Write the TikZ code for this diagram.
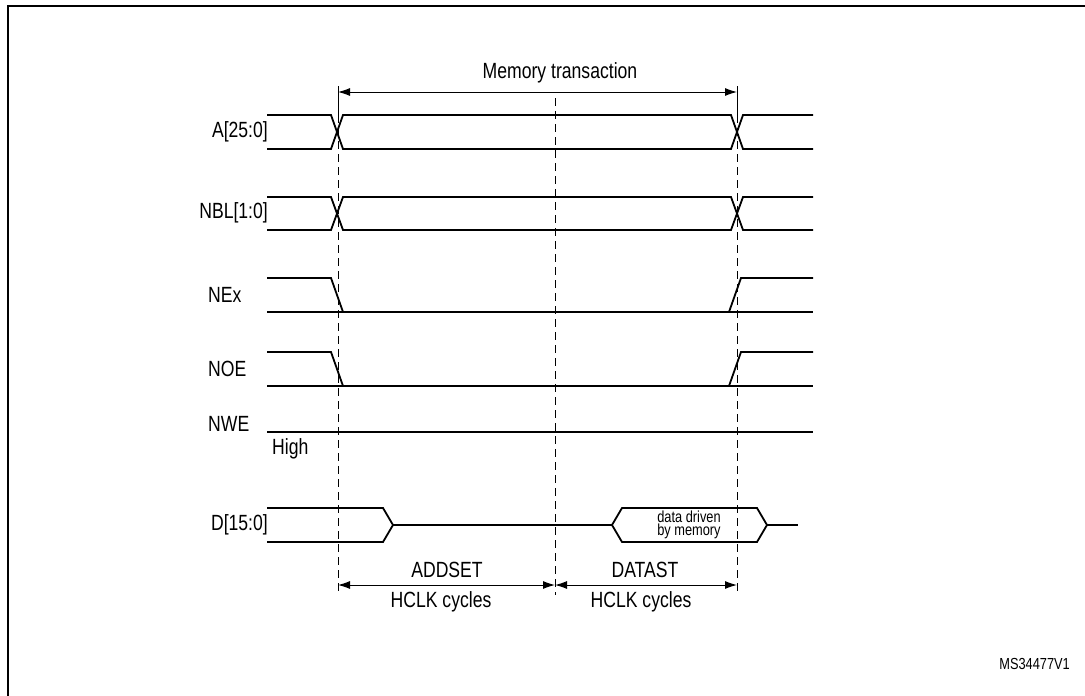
\documentclass[tikz,border=0pt]{standalone}
\usepackage{fontspec}
\setmainfont{Liberation Sans}[FakeStretch=0.8]
\usetikzlibrary{arrows.meta}
\begin{document}
\begin{tikzpicture}[x=1pt,y=-1pt,
  sig/.style={line width=1.8pt},
  vdash/.style={line width=0.9pt,dash pattern=on 8pt off 5pt},
  dim/.style={line width=1pt,{Latex[length=12pt,width=8pt]}-{Latex[length=12pt,width=8pt]}},
  lbl/.style={font=\fontsize{22}{24}\selectfont,inner sep=0pt},
  small/.style={font=\fontsize{16}{13}\selectfont,inner sep=0pt,align=center}]
\useasboundingbox (0,0) rectangle (1085,696);
\draw[line width=2pt] (8,696) -- (8,6) -- (1085,6);
% labels
\node[lbl,anchor=east] (la) at (268,132) {A[25:0]};
\node[lbl,anchor=east] (lb) at (268,213) {NBL[1:0]};
\node[lbl,anchor=west] (lc) at (208,295) {NEx};
\node[lbl,anchor=west] (ld) at (208,369) {NOE};
\node[lbl,anchor=west] (le) at (208,424) {NWE};
\node[lbl,anchor=west] (lh) at (272,449) {High};
\node[lbl,anchor=east] (lf) at (268,525) {D[15:0]};
% A and NBL buses
\foreach \t/\b in {115/149,197/230}{
 \draw[sig] (267,\t) -- (331,\t) -- (343,\b) -- (731,\b) -- (743,\t) -- (813,\t);
 \draw[sig] (267,\b) -- (331,\b) -- (343,\t) -- (731,\t) -- (743,\b) -- (813,\b);
}
% NEx, NOE
\foreach \t/\b in {278/312,352/386}{
 \draw[sig] (267,\t) -- (331,\t) -- (343,\b);
 \draw[sig] (267,\b) -- (813,\b);
 \draw[sig] (729,\b) -- (741,\t) -- (813,\t);
}
% NWE
\draw[sig] (267,432) -- (813,432);
% D
\draw[sig] (267,508) -- (383,508) -- (393,525) -- (383,542) -- (267,542);
\draw[sig] (393,525) -- (612,525);
\draw[sig] (612,525) -- (622,508) -- (757,508) -- (767,525) -- (757,542) -- (622,542) -- cycle;
\draw[sig] (767,525) -- (798,525);
\node[small] (dd) at (689,525) {data driven\\by memory};
% dashed
\draw[line width=0.9pt] (338,86) -- (338,115);
\draw[line width=0.9pt] (737,86) -- (737,115);
\draw[vdash] (338,115) -- (338,595);
\draw[vdash] (737,115) -- (737,595);
\draw[vdash] (555,98) -- (555,595);
% dims
\coordinate (m1) at (338,92); \coordinate (m2) at (737,92);
\draw[dim] (m1) -- (m2);
\node[lbl] (mt) at (560,73) {Memory transaction};
\coordinate (a1) at (338,585); \coordinate (a2) at (555,585); \coordinate (a3) at (737,585);
\draw[dim] (a1) -- (a2);
\draw[dim] (a2) -- (a3);
\node[lbl] (t1) at (447,570) {ADDSET};
\node[lbl] (t2) at (441,602) {HCLK cycles};
\node[lbl] (t3) at (645,570) {DATAST};
\node[lbl] (t4) at (641,602) {HCLK cycles};
\node[small,anchor=east] (ms) at (1070,664) {MS34477V1};
\end{tikzpicture}
\end{document}
